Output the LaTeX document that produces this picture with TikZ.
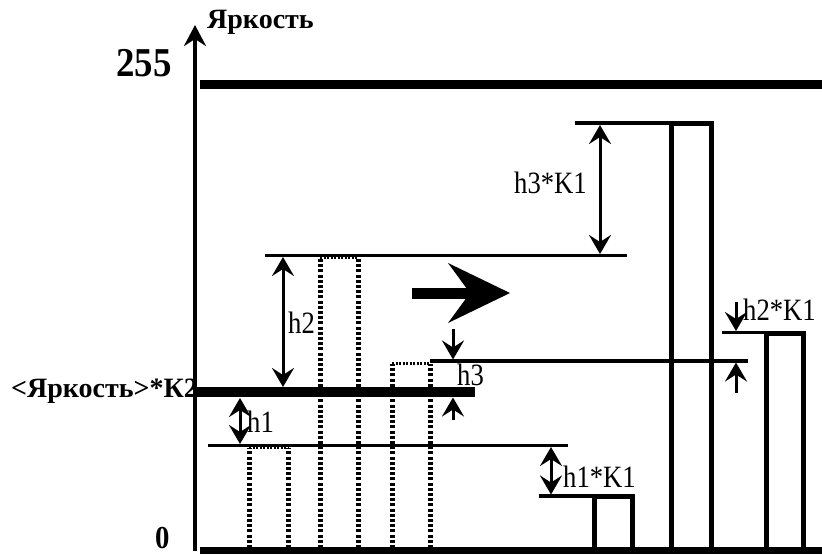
\documentclass[tikz,border=0pt]{standalone}
\usepackage{fontspec}
\setmainfont{Liberation Serif}
\newfontfamily\lblnf[FakeStretch=0.86]{Liberation Serif}
\newfontfamily\lblbf{Liberation Serif Bold}
\newfontfamily\lblbfn[FakeStretch=0.9]{Liberation Serif Bold}
\usetikzlibrary{arrows.meta}
\tikzset{
  thinln/.style={line width=3.5pt},
  thickln/.style={line width=9pt},
  barln/.style={line width=5pt, miter limit=10},
  dotln/.style={line width=5pt, dash pattern=on 3pt off 2.2pt},
  dottop/.style={line width=3pt, dash pattern=on 2pt off 1.5pt},
  dimarr/.style={line width=3pt, -{Stealth[length=19pt,width=22pt,inset=7pt]}},
  dimdbl/.style={line width=3pt, {Stealth[length=19pt,width=22pt,inset=7pt]}-{Stealth[length=19pt,width=22pt,inset=7pt]}},
  lbl/.style={inner sep=0pt, anchor=base west, font=\lblnf\fontsize{31}{31}\selectfont},
  blbl/.style={inner sep=0pt, anchor=base west, font=\lblbf\fontsize{28}{28}\selectfont},
}
\begin{document}
\begin{tikzpicture}[x=1pt,y=-1pt]
\useasboundingbox (0,0) rectangle (822,555);
% axis
\coordinate (axb) at (195,551);
\coordinate (axt) at (195,25);
\draw[line width=4pt, -{Stealth[length=21pt,width=22pt,inset=7pt]}] (axb) -- (axt);
\node[blbl] (ylab) at (207,28) {Яркость};
\node[inner sep=0pt, anchor=base west, font=\lblbfn\fontsize{41}{41}\selectfont] (n255) at (116,76) {255};
\node[inner sep=0pt, anchor=base west, font=\lblbfn\fontsize{32}{32}\selectfont] (n0) at (155,548) {0};
\node[blbl] (k2lab) at (11,397) {<Яркость>*К2};
% thick levels
\draw[thickln] (200,84.5) -- (822,84.5);
\draw[line width=7pt] (200,550) -- (822,550);
\draw[line width=10pt] (195,392) -- (475,392);
% thin reference lines
\draw[thinln] (208,445.5) -- (568,445.5);
\draw[thinln] (265,255.5) -- (627,255.5);
\draw[thinln] (430,361) -- (748,361);
\draw[thinln] (575,123) -- (671,123);
\draw[thinln] (722,332.5) -- (766,332.5);
\draw[thinln] (539,496) -- (594,496);
% dotted (previous) bars
\draw[dotln] (249,548) -- (249,448);
\draw[dotln] (288,548) -- (288,448);
\draw[dottop] (249,447) -- (288,447);
\draw[dotln] (320,548) -- (320,258);
\draw[dotln] (358,548) -- (358,258);
\draw[dottop] (320,257) -- (358,257);
\draw[dotln] (392,548) -- (392,364);
\draw[dotln] (430,548) -- (430,364);
\draw[dottop] (392,363) -- (430,363);
% solid bars
\draw[barln] (594,550) -- (594,496) -- (632,496) -- (632,550);
\draw[barln] (671,550) -- (671,123) -- (711,123) -- (711,550);
\draw[barln] (766,550) -- (766,333) -- (803,333) -- (803,550);
% big arrow
\fill (412,288) rectangle (470,299);
\fill (510,293) -- (448,263) -- (470,293) -- (448,323) -- cycle;
% dimension arrows
\coordinate (h1a) at (240,398); \coordinate (h1b) at (240,444);
\draw[dimdbl] (h1a) -- (h1b);
\node[lbl] (h1) at (247,432) {h1};
\coordinate (h2a) at (283,257); \coordinate (h2b) at (283,387);
\draw[dimdbl] (h2a) -- (h2b);
\node[lbl] (h2) at (288,333) {h2};
\coordinate (h3s) at (453,329); \coordinate (h3t) at (453,359.5);
\draw[dimarr] (h3s) -- (h3t);
\coordinate (h3u) at (453,420); \coordinate (h3v) at (453,397.5);
\draw[dimarr] (h3u) -- (h3v);
\node[lbl] (h3) at (457,385) {h3};
\coordinate (k3a) at (600,125); \coordinate (k3b) at (600,254);
\draw[dimdbl] (k3a) -- (k3b);
\node[lbl] (h3k) at (514,193) {h3*K1};
\coordinate (k1a) at (551,447); \coordinate (k1b) at (551,494.5);
\draw[dimdbl] (k1a) -- (k1b);
\node[lbl] (h1k) at (563,487) {h1*K1};
\coordinate (k2s) at (736,302); \coordinate (k2t) at (736,331);
\draw[dimarr] (k2s) -- (k2t);
\coordinate (k2u) at (736,393); \coordinate (k2v) at (736,362.5);
\draw[dimarr] (k2u) -- (k2v);
\node[lbl] (h2k) at (743,320) {h2*K1};
\end{tikzpicture}
\end{document}
